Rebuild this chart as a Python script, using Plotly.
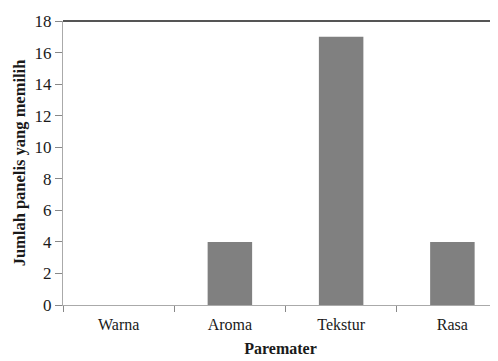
import plotly.graph_objects as go

categories = ["Warna", "Aroma", "Tekstur", "Rasa"]
values = [0, 4, 17, 4]
y_ticks = [0, 2, 4, 6, 8, 10, 12, 14, 16, 18]

fig = go.Figure()
fig.add_trace(go.Bar(
    x=categories, y=values, width=0.4,
    marker=dict(color="#808080", line=dict(width=0)),
))
font = dict(family="Liberation Serif, Times New Roman, serif", size=16, color="#1a1a1a")
# page body has an 8px margin, so the figure is offset by 8px
fig.update_layout(
    width=490, height=353,
    margin=dict(l=55, r=0, t=13, b=56),
    paper_bgcolor="white", plot_bgcolor="white",
    showlegend=False, font=font,
    xaxis=dict(range=[-0.5, 3.41], showgrid=False, showline=True, linecolor="#aaaaaa", linewidth=1,
               ticks="outside", tickson="boundaries", ticklen=6, tickcolor="#888",
               ticklabelstandoff=5,
               tickfont=dict(size=16),
               title=dict(text="<b>Paremater</b>", standoff=10, font=dict(size=16))),
    yaxis=dict(range=[0, 18], tickvals=y_ticks, showgrid=False, showline=True, linecolor="#aaaaaa",
               linewidth=1, ticks="outside", ticklen=7, tickcolor="#888", zeroline=False,
               tickfont=dict(size=17),
               title=dict(text="<b>Jumlah panelis yang memilih</b>", standoff=4, font=dict(size=16.5))),
    shapes=[dict(type="line", xref="paper", yref="paper", x0=0, x1=1, y0=1, y1=1,
                 line=dict(color="#555555", width=2))],
)
fig.write_html("out.html")
